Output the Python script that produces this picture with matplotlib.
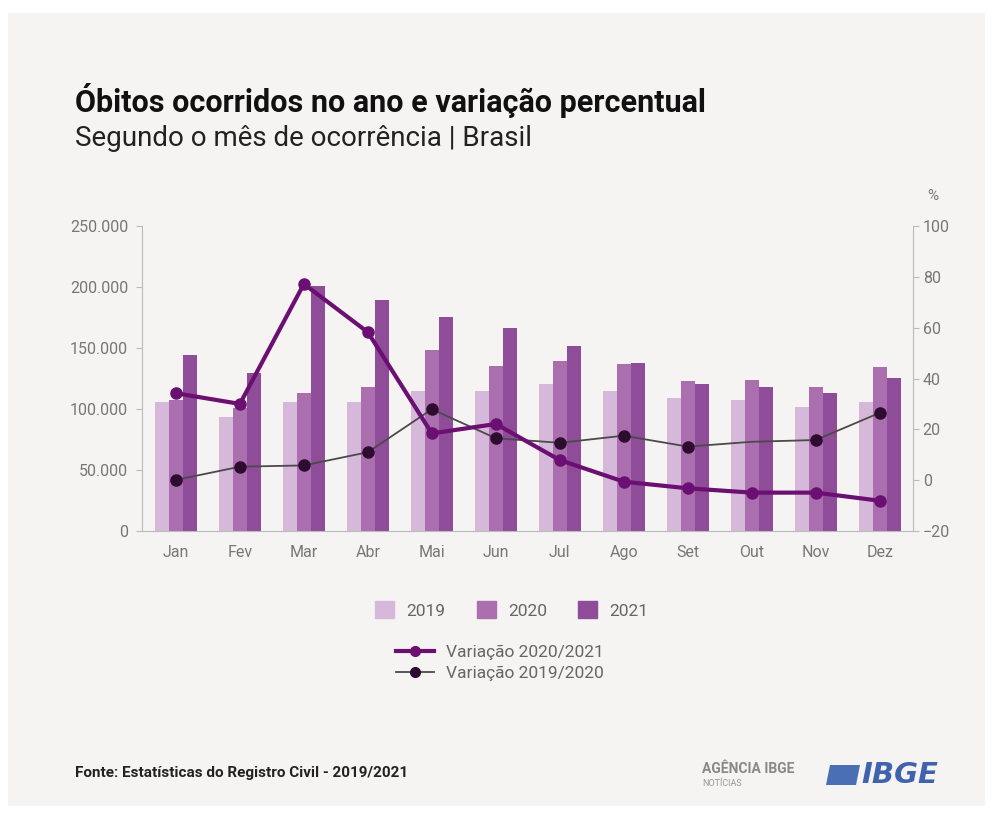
import numpy as np
import matplotlib.pyplot as plt
from matplotlib.patches import Rectangle, Polygon
from matplotlib.lines import Line2D
from matplotlib.patches import Patch

meses = ['Jan', 'Fev', 'Mar', 'Abr', 'Mai', 'Jun', 'Jul', 'Ago', 'Set', 'Out', 'Nov', 'Dez']
obitos_2019 = [106000, 93700, 106000, 106000, 115000, 115000, 120500, 114800, 108800, 107400, 101900, 106000]
obitos_2020 = [107400, 101000, 112900, 118300, 148400, 135500, 139600, 136600, 123200, 123800, 117800, 134700]
obitos_2021 = [144300, 129800, 200800, 189300, 175200, 166100, 151600, 137400, 120200, 118300, 113400, 125200]
var_2020_2021 = [34.2, 30.0, 77.2, 58.2, 18.4, 22.1, 7.9, -0.6, -3.2, -4.9, -4.9, -8.1]
var_2019_2020 = [0.1, 5.3, 5.8, 11.0, 27.9, 16.5, 14.7, 17.5, 13.2, 15.1, 15.8, 26.5]

c2019 = '#d6b8da'
c2020 = '#ab6fb0'
c2021 = '#8f4c98'
c_line1 = '#6b0f72'
c_line2 = '#4a4a4a'
c_mark2 = '#2e0c30'
bg = '#f5f4f2'
narrow = ['Liberation Sans Narrow', 'Roboto', 'DejaVu Sans']

W, H = 993, 834
fig = plt.figure(figsize=(W / 100, H / 100), dpi=100)
fig.patch.set_facecolor('white')
fig.patches.append(Rectangle((8 / W, 1 - 806 / H), (985 - 8) / W, (806 - 13) / H,
                             transform=fig.transFigure, facecolor=bg, edgecolor='none', zorder=-10))

ax = fig.add_axes([142 / W, 1 - 531 / H, (913 - 142) / W, (531 - 226) / H])
ax.set_facecolor('none')
x = np.arange(len(meses))
w = 0.22
ax.bar(x - w, obitos_2019, w, color=c2019, zorder=2)
ax.bar(x, obitos_2020, w, color=c2020, zorder=2)
ax.bar(x + w, obitos_2021, w, color=c2021, zorder=2)
ax.set_xlim(-0.53, 11.52)
ax.set_ylim(0, 250000)
ax.set_yticks(np.arange(0, 250001, 50000))
ax.set_yticklabels(['0', '50.000', '100.000', '150.000', '200.000', '250.000'])
ax.set_xticks(x)
ax.set_xticklabels(meses)
for s in ['top', 'right']:
    ax.spines[s].set_visible(False)
ax.spines['left'].set_color('#bbbbbb')
ax.spines['bottom'].set_color('#bbbbbb')
ax.tick_params(axis='y', colors='#bbbbbb', length=4, labelcolor='#777777', labelsize=11.5, pad=6)
ax.tick_params(axis='x', length=0, labelcolor='#777777', labelsize=11.5, pad=10)
for lab in ax.get_xticklabels() + ax.get_yticklabels():
    lab.set_family(narrow)

ax2 = ax.twinx()
ax2.plot(x, var_2019_2020, color=c_line2, lw=1.3, marker='o', ms=8,
         mfc=c_mark2, mec=c_mark2, markevery=[0, 1, 2, 3, 4, 5, 6, 7, 8, 10, 11], zorder=3)
ax2.plot(x, var_2020_2021, color=c_line1, lw=3, marker='o', ms=8,
         mfc=c_line1, mec=c_line1, zorder=4)
ax2.set_ylim(-20, 100)
ax2.set_yticks(np.arange(-20, 101, 20))
for s in ['top', 'left', 'bottom']:
    ax2.spines[s].set_visible(False)
ax2.spines['right'].set_color('#bbbbbb')
ax2.tick_params(axis='y', colors='#bbbbbb', length=4, labelcolor='#777777', labelsize=11.5, pad=3)
for lab in ax2.get_yticklabels():
    lab.set_family(narrow)
fig.text(927 / W, 1 - 196 / H, '%', color='#777777', fontsize=11, family=narrow, ha='left', va='center')

fig.text(75 / W, 1 - 100 / H, 'Óbitos ocorridos no ano e variação percentual', fontsize=22,
         fontweight='bold', family=narrow, color='#111111', va='center')
fig.text(75 / W, 1 - 138 / H, 'Segundo o mês de ocorrência | Brasil', fontsize=20,
         family=narrow, color='#222222', va='center')

leg_font = {'family': narrow, 'size': 12.5}
h_bars = [Patch(color=c2019), Patch(color=c2020), Patch(color=c2021)]
leg1 = fig.legend(h_bars, ['2019', '2020', '2021'], loc='center', bbox_to_anchor=(512 / W, 1 - 610 / H),
                  ncol=3, frameon=False, prop=leg_font, handlelength=1.1, handleheight=1.1,
                  columnspacing=1.8, handletextpad=0.7)
for t in leg1.get_texts():
    t.set_color('#666666')
h_lines = [Line2D([], [], color=c_line1, lw=3, marker='o', ms=7, mfc=c_line1, mec=c_line1),
           Line2D([], [], color=c_line2, lw=1.3, marker='o', ms=7, mfc=c_mark2, mec=c_mark2)]
leg2 = fig.legend(h_lines, ['Variação 2020/2021', 'Variação 2019/2020'], loc='center',
                  bbox_to_anchor=(500 / W, 1 - 663 / H), frameon=False, prop=leg_font,
                  handlelength=2.2, labelspacing=0.3, handletextpad=0.7)
for t in leg2.get_texts():
    t.set_color('#666666')

fig.text(75 / W, 1 - 773 / H, 'Fonte: Estatísticas do Registro Civil - 2019/2021', fontsize=11,
         fontweight='bold', family=narrow, color='#222222', va='center')
fig.text(702 / W, 1 - 769 / H, 'AGÊNCIA IBGE', fontsize=10, fontweight='bold', family=narrow,
         color='#888888', va='center')
fig.text(702 / W, 1 - 783 / H, 'NOTÍCIAS', fontsize=6.5, family=narrow, color='#999999', va='center')
fig.patches.append(Polygon([(826 / W, 1 - 785 / H), (856 / W, 1 - 785 / H),
                            (860 / W, 1 - 765 / H), (830 / W, 1 - 765 / H)],
                           closed=True, transform=fig.transFigure, facecolor='#4a6fb5',
                           edgecolor='none'))
fig.text(861 / W, 1 - 775 / H, 'IBGE', fontsize=21, fontweight='bold', style='italic',
         color='#3f63ad', va='center')

fig.savefig('out.png', dpi=100, facecolor=fig.get_facecolor())
